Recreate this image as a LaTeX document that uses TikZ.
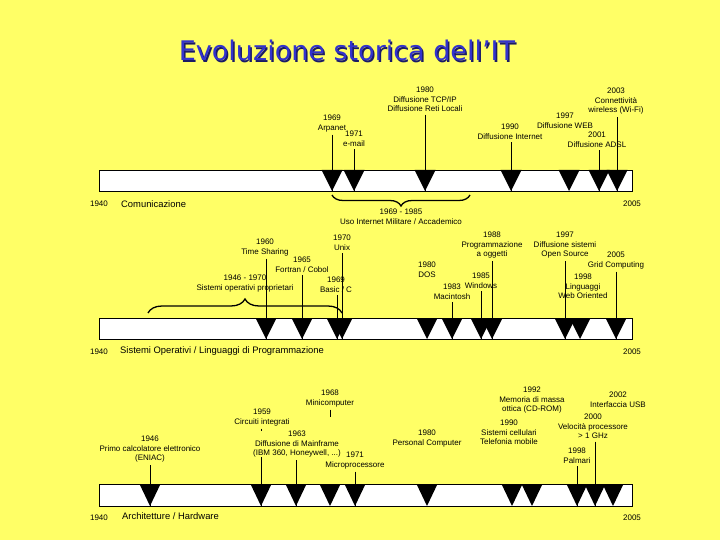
\documentclass[tikz,border=0pt]{standalone}
\usepackage{fontspec}
\setmainfont{Liberation Sans}
\newfontfamily\titlefont{DejaVu Sans}
\usetikzlibrary{decorations.pathreplacing}
\definecolor{bg}{HTML}{FFFF66}
\definecolor{titleblue}{HTML}{3333CC}
\definecolor{titleshadow}{HTML}{1A1A66}
\begin{document}
\begin{tikzpicture}[x=1pt,y=-1pt,
  lbl/.style={font=\fontsize{8}{9.5}\selectfont, align=center, inner sep=0pt, outer sep=3pt, anchor=north},
  sect/.style={font=\fontsize{9.4}{11}\selectfont, inner sep=0pt, anchor=west},
  yr/.style={font=\fontsize{8}{9.5}\selectfont, inner sep=0pt},
  bar/.style={draw=black, fill=white, line width=0.7pt},
  lead/.style={draw=black, line width=0.8pt},
  brc/.style={draw=black, line width=1.3pt, decorate},
  tri/.style={fill=black},
]
\fill[bg] (0,0) rectangle (720,540);
\useasboundingbox (0,0) rectangle (720,540);

% title
\node[font=\titlefont\fontsize{27}{30}\selectfont, text=titleshadow] (titleshadow) at (348.5,52) {Evoluzione storica dell’IT};
\node[font=\titlefont\fontsize{27}{30}\selectfont, text=titleblue] (title) at (347,50.5) {Evoluzione storica dell’IT};

% ---------------- Comunicazione ----------------
\draw[bar] (99,170) rectangle (632,191);
\foreach \n/\x in {t1/332,t2/354,t3/425,t4/511,t5/569,t6/599,t7/617}
  \coordinate (\n) at (\x,191);
\node[lbl] (l1) at (332,112) {1969\\Arpanet};
\node[lbl] (l2) at (354,128) {1971\\e-mail};
\node[lbl] (l3) at (425,84) {1980\\Diffusione TCP/IP\\Diffusione Reti Locali};
\node[lbl] (l4) at (510,121) {1990\\Diffusione Internet};
\node[lbl] (l5) at (565,110) {1997\\Diffusione WEB};
\node[lbl] (l6) at (597,129) {2001\\Diffusione ADSL};
\node[lbl] (l7) at (616,85) {2003\\Connettività\\wireless (Wi-Fi)};
\foreach \a/\b in {l1/t1,l2/t2,l3/t3,l4/t4,l6/t6,l7/t7}
  \draw[lead] (\a.south -| \b) -- (\b);
\foreach \n in {t1,t2,t3,t4,t5,t6,t7}
  \fill[tri] (\n) -- ++(-10.5,-21) -- ++(21,0) -- cycle;
\coordinate (br1a) at (332,195);
\coordinate (br1b) at (470,195);
\draw[brc, decoration={brace, mirror, amplitude=11pt}] (br1a) -- (br1b);
\node[lbl] (l8) at (401,206) {1969 - 1985\\Uso Internet Militare / Accademico};
\node[yr] (y1a) at (99,204) {1940};
\node[sect] (s1) at (121,204) {Comunicazione};
\node[yr] (y1b) at (632,204) {2005};

% ---------------- Sistemi Operativi ----------------
\draw[bar] (99,318) rectangle (632,339);
\foreach \n/\x in {m1/266,m2/302,m5/337,m4/342,m6/427,m7/452,m8/481,m9/492,m10/565,m11/580,m12/616}
  \coordinate (\n) at (\x,339);
\node[lbl] (k1) at (265,236) {1960\\Time Sharing};
\node[lbl] (k2) at (302,254) {1965\\Fortran / Cobol};
\node[lbl] (k3) at (245,272) {1946 - 1970\\Sistemi operativi proprietari};
\node[lbl] (k4) at (342,232) {1970\\Unix};
\node[lbl] (k5) at (336,274) {1969\\Basic / C};
\node[lbl] (k6) at (427,259) {1980\\DOS};
\node[lbl] (k7) at (452,281) {1983\\Macintosh};
\node[lbl] (k8) at (481,270) {1985\\Windows};
\node[lbl] (k9) at (492,229) {1988\\Programmazione\\a oggetti};
\node[lbl] (k10) at (565,229) {1997\\Diffusione sistemi\\Open Source};
\node[lbl] (k11) at (583,271) {1998\\Linguaggi\\Web Oriented};
\node[lbl] (k12) at (616,249) {2005\\Grid Computing};
\foreach \a/\b in {k1/m1,k2/m2,k4/m4,k5/m5,k7/m7,k8/m8,k9/m9,k10/m10,k12/m12}
  \draw[lead] (\a.south -| \b) -- (\b);
\foreach \n in {m1,m2,m5,m4,m6,m7,m8,m9,m10,m11,m12}
  \fill[tri] (\n) -- ++(-10.5,-21) -- ++(21,0) -- cycle;
\coordinate (br2a) at (148,313);
\coordinate (br2b) at (342,313);
\draw[brc, decoration={brace, amplitude=14pt}] (br2a) -- (br2b);
\node[yr] (y2a) at (99,352) {1940};
\node[sect] (s2) at (120,351) {Sistemi Operativi / Linguaggi di Programmazione};
\node[yr] (y2b) at (632,352) {2005};

% ---------------- Architetture ----------------
\draw[bar] (99,484) rectangle (632,506);
\foreach \n/\x in {b1/150,b2/261,b3/296,b4/330,b5/355,b6/427,b7/512,b8/532,b11/577,b10/595,b9/613}
  \coordinate (\n) at (\x,506);
\node[lbl] (a1) at (150,433) {1946\\Primo calcolatore elettronico\\(ENIAC)};
\node[lbl] (a2) at (262,406) {1959\\Circuiti integrati};
\node[lbl] (a4) at (330,387) {1968\\Minicomputer};
\node[lbl] (a5) at (355,449) {1971\\Microprocessore};
\node[lbl] (a6) at (427,427) {1980\\Personal Computer};
\node[lbl] (a7) at (509,417) {1990\\Sistemi cellulari\\Telefonia mobile};
\node[lbl] (a8) at (532,384) {1992\\Memoria di massa\\ottica (CD-ROM)};
\node[lbl] (a9) at (618,389) {2002\\Interfaccia USB};
\node[lbl] (a10) at (593,411) {2000\\Velocità processore\\> 1 GHz};
\node[lbl] (a11) at (577,445) {1998\\Palmari};
\foreach \a/\b in {a1/b1,a2/b2,a5/b5,a10/b10,a11/b11}
  \draw[lead] (\a.south -| \b) -- (\b);
\node[lbl, fill=bg] (a3) at (297,428) {1963\\Diffusione di Mainframe\\(IBM 360, Honeywell, ...)};
\draw[lead] (a3.south -| b3) -- (b3);
\draw[lead] (a4.south) -- ++(0,7);
\foreach \n in {b1,b2,b3,b4,b5,b6,b7,b8,b11,b10,b9}
  \fill[tri] (\n) -- ++(-10.5,-22) -- ++(21,0) -- cycle;
\node[yr] (y3a) at (99,518) {1940};
\node[sect] (s3) at (122,516) {Architetture / Hardware};
\node[yr] (y3b) at (632,518) {2005};
\end{tikzpicture}
\end{document}
